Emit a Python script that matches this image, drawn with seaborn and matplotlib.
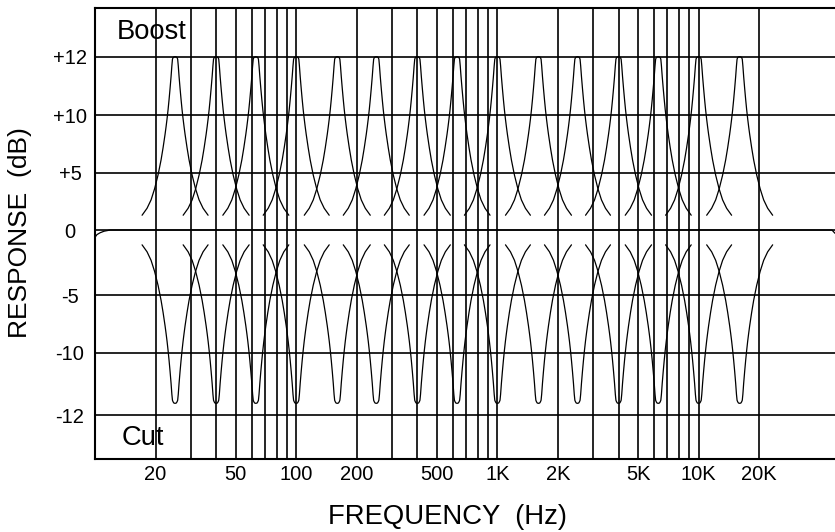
import numpy as np
import pandas as pd
import matplotlib
matplotlib.use('Agg')
import matplotlib.pyplot as plt
import seaborn as sns

# 2/3-octave band centres of the graphic EQ (Hz)
band_centres = [25, 40, 63, 100, 160, 250, 400, 630, 1000, 1600, 2500, 4000, 6300, 10000, 16000]

# one band: offset from centre (octaves) -> level (dB)
profile_oct = [0, 0.0198, 0.033, 0.0429, 0.0528, 0.066, 0.0826, 0.0991, 0.1156, 0.1321, 0.1486,
               0.1651, 0.1981, 0.2311, 0.2807, 0.3385, 0.3962, 0.4623, 0.5448]
boost_db = [12.0, 11.99, 11.966, 11.915, 11.69, 11.32, 10.91, 10.53, 10.18, 9.68, 8.98,
            8.33, 7.16, 6.11, 4.81, 3.59, 2.63, 1.90, 1.29]
cut_db = [-11.624, -11.614, -11.573, -11.525, -11.335, -10.982, -10.597, -10.244, -9.792, -9.012, -8.319,
          -7.669, -6.499, -5.459, -4.254, -3.177, -2.331, -1.677, -1.138]

# flat response with the roll-off at both ends
flat_freq = [10, 10.23, 10.6, 11.1, 11.9, 46000, 47600]
flat_db = [-0.56, -0.35, -0.21, -0.09, 0, 0, -0.25]

grid_freqs = [20, 30, 40, 50, 60, 70, 80, 90, 100, 200, 300, 400, 500, 600, 700, 800, 900,
              1000, 2000, 3000, 4000, 5000, 6000, 7000, 8000, 9000, 10000, 20000]
xtick_freqs = [20, 50, 100, 200, 500, 1000, 2000, 5000, 10000, 20000]
xtick_labels = ['20', '50', '100', '200', '500', '1K', '2K', '5K', '10K', '20K']
ytick_db = [-12, -10, -5, 0, 5, 10, 12]
ytick_labels = ['-12', '-10', '-5', '0', '+5', '+10', '+12']

# build long table of all curves
rows = []
offs = np.array(profile_oct)
for i, fc in enumerate(band_centres):
    f = np.concatenate([fc * 2.0 ** -offs[::-1], fc * 2.0 ** offs[1:]])
    for kind, prof in (('boost', boost_db), ('cut', cut_db)):
        p = np.array(prof)
        lev = np.concatenate([p[::-1], p[1:]])
        for fx, lv in zip(f, lev):
            rows.append({'curve': f'{kind}{i}', 'freq': fx, 'db': lv})
for fx, lv in zip(flat_freq, flat_db):
    rows.append({'curve': 'flat', 'freq': fx, 'db': lv})
df = pd.DataFrame(rows)

sns.set_theme(style='white')
plt.rcParams['font.family'] = ['Liberation Sans', 'DejaVu Sans']

fig = plt.figure(figsize=(8.35, 5.32), dpi=100)
ax = fig.add_axes([95 / 835, 1 - 459.3 / 532, 745 / 835, 451 / 532])

# the dB axis of the drawing is not evenly spaced
db_knots = [-20, -12, -10, -5, 0, 5, 10, 12, 20]
pos_knots = [-434.2, -185, -122.7, -65, 0, 57.3, 115, 173.3, 406.5]
ax.set_yscale('function', functions=(lambda y: np.interp(y, db_knots, pos_knots),
                                     lambda p: np.interp(p, pos_knots, db_knots)))
ax.set_xscale('log')

for f in grid_freqs:
    ax.axvline(f, color='black', lw=1.2, zorder=1)
for d in ytick_db:
    ax.axhline(d, color='black', lw=1.2, zorder=1)

sns.lineplot(data=df, x='freq', y='db', units='curve', estimator=None, sort=False,
             color='black', lw=0.9, ax=ax, zorder=2)

ax.set_xlim(10, 10 ** (1 + 745 / 201.2))
ax.set_ylim(-13.42, 13.66)
ax.set_xticks(xtick_freqs, xtick_labels)
ax.set_xticks([], minor=True)
ax.set_yticks(ytick_db, ytick_labels)
ax.set_yticks([], minor=True)
ax.tick_params(axis='both', length=0, labelsize=14.5, colors='black')
ax.tick_params(axis='x', pad=4)
ax.tick_params(axis='y', pad=18)
for lbl in ax.get_yticklabels():
    lbl.set_ha('center')
ax.set_xlabel('')
ax.set_ylabel('')

for side in ('top', 'left', 'bottom'):
    ax.spines[side].set_color('black')
    ax.spines[side].set_linewidth(1.5)
ax.spines['right'].set_visible(False)

fig.text(447 / 835, 1 - 517 / 532, 'FREQUENCY  (Hz)', ha='center', va='center', fontsize=19.8, color='black')
fig.text(20 / 835, 1 - 233 / 532, 'RESPONSE  (dB)', ha='center', va='center', rotation=90, fontsize=19, color='black')
fig.text(117 / 835, 1 - 39.3 / 532, 'Boost', ha='left', va='baseline', fontsize=19.7, color='black')
fig.text(122 / 835, 1 - 445 / 532, 'Cut', ha='left', va='baseline', fontsize=19.7, color='black')

fig.savefig('out.png', dpi=100)
